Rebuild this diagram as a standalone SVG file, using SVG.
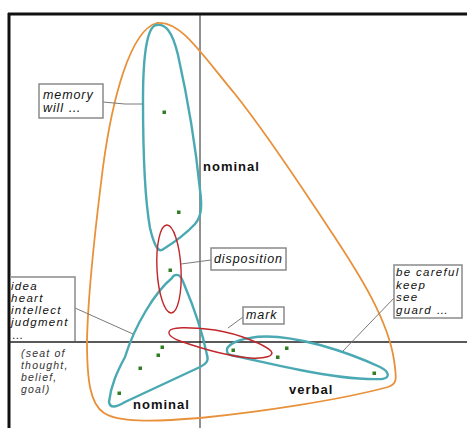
<svg xmlns="http://www.w3.org/2000/svg" width="467" height="428" viewBox="0 0 467 428">
<style>
.frame{stroke:#111;fill:none}
.axis{stroke:#222;fill:none}
.orange{stroke:#e8913a;stroke-width:1.8;fill:none}
.teal{stroke:#4aa9b3;stroke-width:2.4;fill:none}
.red{stroke:#c0262a;stroke-width:1.4;fill:none}
.lead{stroke:#7a7a7a;stroke-width:1;fill:none}
.box{stroke:#8a8a8a;stroke-width:1.5;fill:#fff}
.dot{fill:#2f7f22}
.lbl{font-family:"Liberation Sans",Arial,sans-serif;font-style:italic;font-size:12.5px;letter-spacing:0.9px;fill:#111}
.stack{font-family:"Liberation Sans",Arial,sans-serif;font-style:italic;font-size:11.5px;letter-spacing:1.3px;fill:#111}
.small{font-family:"Liberation Sans",Arial,sans-serif;font-style:italic;font-size:10.5px;letter-spacing:1.2px;fill:#333}
.bold{font-family:"Liberation Sans",Arial,sans-serif;font-weight:bold;font-size:13px;letter-spacing:1px;fill:#111}
</style>
<rect width="467" height="428" fill="#fff"/>
<g id="axes">
<line class="frame" x1="8" y1="14" x2="467" y2="14" stroke-width="3"/>
<line class="frame" x1="9" y1="13" x2="9" y2="428" stroke-width="3"/>
<line class="axis" x1="200" y1="14" x2="200" y2="428" stroke-width="1"/>
<line class="axis" x1="9" y1="342" x2="467" y2="342" stroke-width="1.5"/>
</g>
<g id="group-orange">
<path class="orange" d="M157,23 C180,20 200,52 235,94 C270,138 300,185 330,230 C360,275 388,320 394,360 C397,380 397,384 388,387 C340,400 260,412 200,418 C150,422 118,422 104,413 C90,404 87,380 87,341 C88,290 95,230 103,167 C112,100 130,30 157,23 Z"/>
</g>
<g id="group-nominal-top">
<path class="teal" d="M157,25 C148,25 143,50 143,100 C143,150 145,200 150,228 C154,245 158,252 162,250 C170,245 185,235 195,224 C202,216 202,205 200,190 C196,150 188,100 178,55 C172,30 165,24 157,25 Z"/>
</g>
<g id="group-nominal-bottom">
<path class="teal" d="M176,275 C180,274 182,278 184,284 C195,310 203,335 207,355 C209,361 206,364 200,367 L125,402 C115,408 110,408 109,402 C111,385 117,372 125,357 C135,325 155,292 172,278 C173,276 175,275 176,275 Z"/>
</g>
<g id="group-verbal">
<path class="teal" d="M227,351 C226,346 235,340 250,338 C265,335 290,337 320,345 C345,352 365,360 380,367 C390,372 390,378 382,379 C360,380 330,376 300,370 C275,365 250,359 235,356 C229,355 227,354 227,351 Z"/>
</g>
<g id="group-disposition">
<ellipse class="red" cx="169" cy="269" rx="12" ry="44" transform="rotate(-3 169 269)"/>
</g>
<g id="group-mark">
<path class="red" d="M169,333 C168,326 190,327 215,330 C240,334 265,345 271,351 C275,356 265,359 250,358 C225,356 200,348 180,341 C172,338 169,336 169,333 Z"/>
</g>
<g id="points">
<rect class="dot" x="162.5" y="110.5" width="3.5" height="3.5"/>
<rect class="dot" x="177" y="210.5" width="3.5" height="3.5"/>
<rect class="dot" x="168.5" y="268.5" width="3.5" height="3.5"/>
<rect class="dot" x="160.5" y="345.5" width="3.5" height="3.5"/>
<rect class="dot" x="156.5" y="353.5" width="3.5" height="3.5"/>
<rect class="dot" x="138.5" y="366.5" width="3.5" height="3.5"/>
<rect class="dot" x="117.5" y="391.5" width="3.5" height="3.5"/>
<rect class="dot" x="231.5" y="348.5" width="3.5" height="3.5"/>
<rect class="dot" x="276" y="355.5" width="3.5" height="3.5"/>
<rect class="dot" x="285" y="346.5" width="3.5" height="3.5"/>
<rect class="dot" x="372.5" y="371.5" width="3.5" height="3.5"/>
</g>
<g id="connectors">
<polyline class="lead" points="103,102 125,104 143,104"/>
<line class="lead" x1="211" y1="260" x2="181" y2="264"/>
<line class="lead" x1="243" y1="317" x2="228" y2="328"/>
<line class="lead" x1="75" y1="308" x2="133" y2="334"/>
<line class="lead" x1="395" y1="297" x2="343" y2="351"/>
</g>
<g id="label-memory">
<rect class="box" x="39" y="84" width="64" height="34"/>
<text class="lbl" x="43" y="99">memory</text>
<text class="lbl" x="43" y="112">will …</text>
</g>
<g id="label-disposition">
<rect class="box" x="211" y="248" width="75" height="22"/>
<text class="lbl" x="214" y="263">disposition</text>
</g>
<g id="label-mark">
<rect class="box" x="243" y="307" width="41" height="17"/>
<text class="lbl" x="246" y="319">mark</text>
</g>
<g id="label-verbs">
<rect class="box" x="394" y="265" width="68" height="53"/>
<text class="stack" x="396" y="276">be careful</text>
<text class="stack" x="396" y="288.5">keep</text>
<text class="stack" x="396" y="301">see</text>
<text class="stack" x="396" y="313.5">guard …</text>
</g>
<g id="label-idea">
<path class="box" d="M10,277 H75 V341"/>
<text class="stack" x="11" y="290">idea</text>
<text class="stack" x="11" y="302">heart</text>
<text class="stack" x="11" y="314">intellect</text>
<text class="stack" x="11" y="326">judgment</text>
<text class="stack" x="12" y="339" font-size="8">…</text>
</g>
<g id="label-seat">
<text class="small" x="21" y="357">(seat of</text>
<text class="small" x="21" y="369">thought,</text>
<text class="small" x="21" y="381">belief,</text>
<text class="small" x="21" y="393">goal)</text>
</g>
<g id="titles">
<text class="bold" x="203" y="171">nominal</text>
<text class="bold" x="133" y="409">nominal</text>
<text class="bold" x="289" y="394">verbal</text>
</g>
</svg>
